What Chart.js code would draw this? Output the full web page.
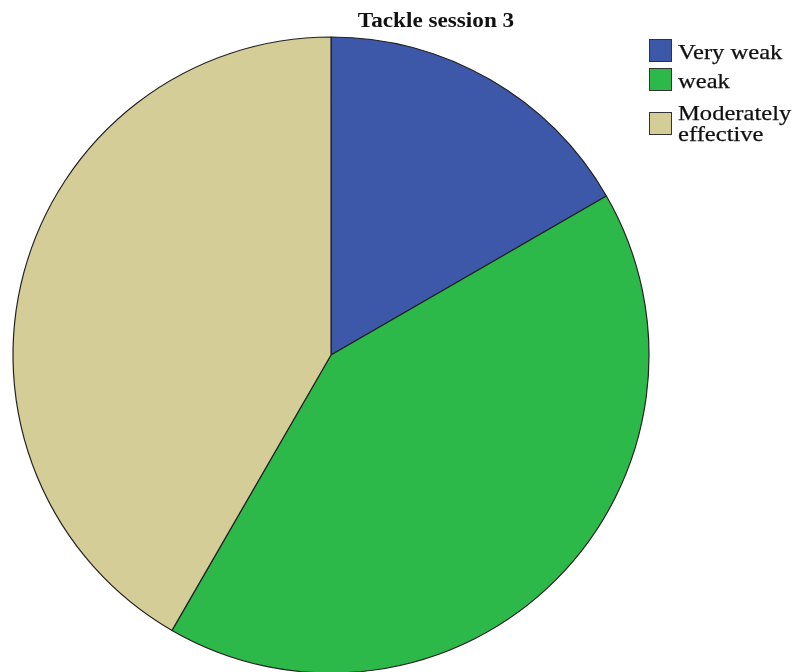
<!DOCTYPE html>
<html>
<head>
<meta charset="utf-8">
<script src="https://cdn.jsdelivr.net/npm/chart.js@4/dist/chart.umd.min.js"></script>
<style>
  html, body { margin: 0; padding: 0; background: #fff; }
  #wrap { width: 795px; height: 672px; position: relative; }
</style>
</head>
<body>
<div id="wrap"><canvas id="canvas" width="795" height="672"></canvas></div>
<script>
// Données du graphique
const chartTitle = 'Tackle session 3';
const categories = ['Very weak', 'weak', 'Moderately effective'];
const legendLines = [['Very weak'], ['weak'], ['Moderately', 'effective']];
const counts = [2, 5, 5];
const sliceColors = ['#3e58a9', '#2db84a', '#d4cd98'];

// Texte un peu élargi horizontalement (trait optionnel pour l'épaissir)
function wideText(ctx, text, x, y, stretch, thicken) {
  ctx.save();
  ctx.translate(x, y);
  ctx.scale(stretch, 1);
  ctx.fillText(text, 0, 0);
  if (thicken) {
    ctx.strokeStyle = ctx.fillStyle;
    ctx.lineWidth = thicken;
    ctx.strokeText(text, 0, 0);
  }
  ctx.restore();
}

// Titre et légende dessinés à la main (police serif, texte sur deux lignes)
const titleAndLegend = {
  id: 'titleAndLegend',
  afterDraw(chart) {
    const ctx = chart.ctx;
    ctx.save();
    ctx.fillStyle = '#111';
    ctx.font = 'bold 20px "Liberation Serif", "DejaVu Serif", serif';
    ctx.textAlign = 'center';
    ctx.textBaseline = 'alphabetic';
    wideText(ctx, chartTitle, 436, 27, 1.16, 0);

    const boxX = 649, boxSize = 23;
    const boxTops = [39, 68, 112];
    ctx.font = '21px "Liberation Serif", "DejaVu Serif", serif';
    ctx.textAlign = 'left';
    categories.forEach((name, i) => {
      ctx.fillStyle = sliceColors[i];
      ctx.fillRect(boxX, boxTops[i], boxSize, boxSize);
      ctx.strokeStyle = '#333';
      ctx.lineWidth = 1;
      ctx.strokeRect(boxX + 0.5, boxTops[i] + 0.5, boxSize - 1, boxSize - 1);
      ctx.fillStyle = '#111';
      const lines = legendLines[i];
      const first = lines.length > 1 ? boxTops[i] + 8 : boxTops[i] + 20;
      lines.forEach((l, j) => wideText(ctx, l, 678, first + j * 21, 1.17, 0.25));
    });
    ctx.restore();
  }
};

const ctx = document.getElementById('canvas');
new Chart(ctx, {
  type: 'pie',
  data: {
    labels: categories,
    datasets: [{
      data: counts,
      backgroundColor: sliceColors,
      borderColor: '#222',
      borderWidth: 1.2,
      radius: 318,
    }],
  },
  options: {
    responsive: false,
    animation: false,
    layout: { padding: { left: 13, right: 146, top: 38, bottom: 0 } },
    plugins: {
      legend: { display: false },
      title: { display: false },
      tooltip: { enabled: false },
    },
  },
  plugins: [titleAndLegend],
});
</script>
</body>
</html>
